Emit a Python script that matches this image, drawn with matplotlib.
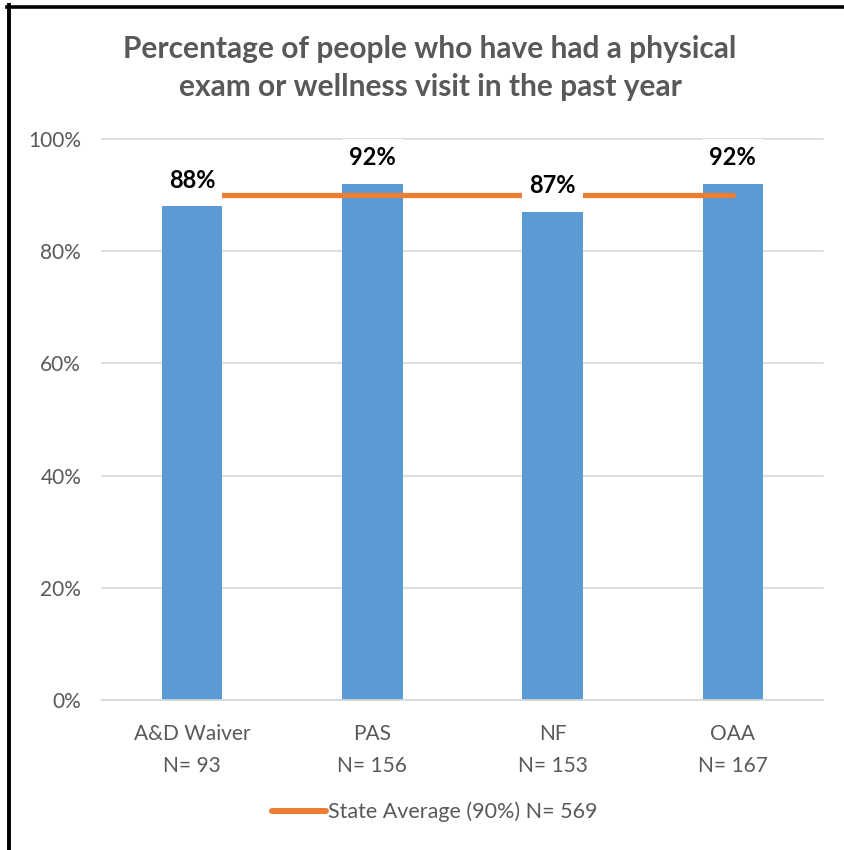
import matplotlib
matplotlib.use("Agg")
import matplotlib.pyplot as plt
from matplotlib.lines import Line2D
from matplotlib.ticker import PercentFormatter

plt.rcParams['font.family'] = ['Lato', 'DejaVu Sans']

categories = ["A&D Waiver\nN= 93", "PAS\nN= 156", "NF\nN= 153", "OAA\nN= 167"]
values = [0.88, 0.92, 0.87, 0.92]
value_labels = ["88%", "92%", "87%", "92%"]
state_avg = [0.90, 0.90, 0.90, 0.90]
legend_label = "State Average (90%) N= 569"
title = "Percentage of people who have had a physical\nexam or wellness visit in the past year"
yticks = [0, 0.2, 0.4, 0.6, 0.8, 1.0]

bar_color = "#5B9BD5"
line_color = "#ED7D31"
text_gray = "#595959"
grid_gray = "#D9D9D9"

W, H = 845, 850
fig = plt.figure(figsize=(W / 100, H / 100), dpi=100)
ax = fig.add_axes([102 / W, 1 - 700 / H, (823 - 102) / W, (700 - 139) / H])

x = list(range(len(categories)))
ax.bar(x, values, width=0.335, color=bar_color, zorder=2)
ax.plot(x, state_avg, color=line_color, linewidth=3.8, solid_capstyle='round', zorder=3,
        label=legend_label)

for xi, v, lab in zip(x, values, value_labels):
    ax.annotate(lab, xy=(xi, v), xytext=(0, 18.7), textcoords='offset points',
                ha='center', va='center', fontsize=17, fontweight='bold', color='black',
                zorder=5,
                bbox=dict(boxstyle='square,pad=0.3', facecolor='white', edgecolor='none'))

ax.set_xlim(-0.5, len(categories) - 0.5)
ax.set_ylim(0, 1.0)
ax.set_yticks(yticks)
ax.yaxis.set_major_formatter(PercentFormatter(1.0, decimals=0))
ax.set_xticks(x)
ax.set_xticklabels(categories, fontsize=15, color=text_gray, linespacing=1.8)
ax.tick_params(axis='y', labelsize=15, labelcolor=text_gray, length=0, pad=15)
ax.tick_params(axis='x', length=0, pad=17)
ax.grid(axis='y', color=grid_gray, linewidth=1.2, zorder=0)
for gl in ax.get_ygridlines():
    gl.set_clip_on(False)
ax.set_axisbelow(True)
for s in ['top', 'right', 'left']:
    ax.spines[s].set_visible(False)
ax.spines['bottom'].set_color(grid_gray)
ax.spines['bottom'].set_linewidth(1.2)

fig.text(430 / W, 1 - 68 / H, title, ha='center', va='center', fontsize=21.5,
         fontweight='bold', color=text_gray, linespacing=1.45)

handles = [Line2D([0], [0], color=line_color, linewidth=4.3, solid_capstyle='round')]
fig.legend(handles, [legend_label], loc='center', bbox_to_anchor=(435 / W, 1 - 812 / H),
           frameon=False, fontsize=15.5, handlelength=2.5, handletextpad=0.1,
           labelcolor=text_gray)

# black frame (top and left)
fig.add_artist(Line2D([7 / W, 1], [1 - 6.5 / H, 1 - 6.5 / H], color='black', linewidth=2.6,
                      transform=fig.transFigure))
fig.add_artist(Line2D([9 / W, 9 / W], [0, 1 - 5 / H], color='black', linewidth=2.8,
                      transform=fig.transFigure))

fig.savefig("out.png", dpi=100, facecolor='white')
